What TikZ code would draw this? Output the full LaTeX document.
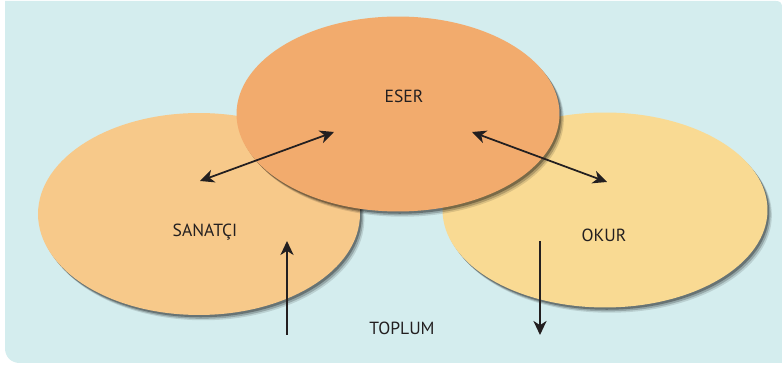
\documentclass[tikz,border=0pt]{standalone}
\usepackage{fontspec}
\setmainfont{PT Sans}
\usepackage{xcolor}
\usepackage{tikz}
\usetikzlibrary{shapes, shadows, arrows.meta, positioning}
\definecolor{bgcyan}{HTML}{D4EDEE}
\definecolor{esercol}{HTML}{F2AB6D}
\definecolor{sanatcol}{HTML}{F7C98A}
\definecolor{okurcol}{HTML}{F9DA93}
\definecolor{inkcol}{HTML}{231F20}

\begin{document}
\begin{tikzpicture}[x=0.02cm, y=-0.02cm,
	blob/.style={ellipse, draw=none, inner sep=0pt,
		drop shadow={shadow xshift=2.5pt, shadow yshift=-3pt, opacity=0.12, fill=black},
		drop shadow={shadow xshift=1.8pt, shadow yshift=-2.2pt, opacity=0.2, fill=black},
		drop shadow={shadow xshift=1pt, shadow yshift=-1.3pt, opacity=0.3, fill=black}},
	lbl/.style={text=inkcol, font=\fontsize{10}{12}\selectfont},
	link/.style={draw=inkcol, line width=1pt, {Stealth[length=8pt, width=7.5pt, inset=2.4pt]}-{Stealth[length=8pt, width=7.5pt, inset=2.4pt]}},
	oneway/.style={draw=inkcol, line width=1pt, -{Stealth[length=8pt, width=7.5pt, inset=2.4pt]}}]
	\useasboundingbox (0,0) rectangle (782,367);
	% background panel
	\fill[bgcyan] (5,1) -- (776,1) .. controls (780,1) and (782,3) .. (782,7) -- (782,363) -- (20,363) .. controls (11,363) and (5,357) .. (5,348) -- cycle;
	
	% the three circles
	\node[blob, fill=sanatcol, minimum width=6.44cm, minimum height=4.04cm] (sanatci) at (199,214) {};
	\node[blob, fill=okurcol, minimum width=6.5cm, minimum height=3.9cm] (okur) at (605,210) {};
	\node[blob, fill=esercol, minimum width=6.46cm, minimum height=3.9cm] (eser) at (398,114) {};
	
	\node[lbl] (esertxt) at (404,96) {ESER};
	\node[lbl] (sanatcitxt) at (205,232) {SANATÇI};
	\node[lbl] (okurtxt) at (604,235) {OKUR};
	\node[lbl] (toplumtxt) at (402,328) {TOPLUM};
	
	% arrow ends
	\coordinate (sl) at (200,181);
	\coordinate (el) at (334,132);
	\coordinate (er) at (472,132);
	\coordinate (or) at (607,182);
	\coordinate (supA) at (287,335);
	\coordinate (supB) at (287,241);
	\coordinate (odownA) at (540,241);
	\coordinate (odownB) at (540,335);
	
	\draw[link] (sl) -- (el);
	\draw[link] (er) -- (or);
	\draw[oneway] (supA) -- (supB);
	\draw[oneway] (odownA) -- (odownB);
\end{tikzpicture}
\end{document}
